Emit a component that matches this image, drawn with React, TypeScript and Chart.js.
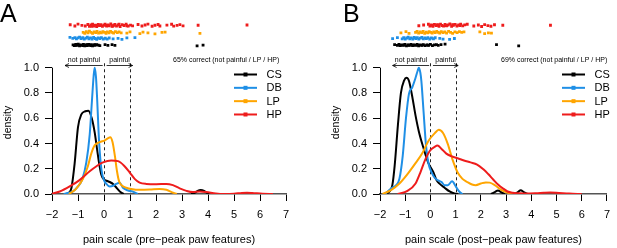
import React, { useEffect, useRef } from "react";
import { Chart, registerables } from "chart.js";
Chart.register(...registerables);

const FONT = "'Liberation Sans', Arial, Helvetica, sans-serif";
Chart.defaults.font.family = FONT;

type Pt = [number, number];

const groups = ["CS", "DB", "LP", "HP"];
const colors = ["#000000", "#1f8fe6", "#ffa500", "#ee1c1c"];
const xTicks = [-2, -1, 0, 1, 2, 3, 4, 5, 6, 7];
const yTicks = [0, 0.2, 0.4, 0.6, 0.8, 1.0];

// ---- Panel A density curves (pre-peak) ----
const csA: (Pt | null)[] = [[-1.45, 0], [-1.35, 0.01], [-1.25, 0.05], [-1.13, 0.24], [-1.0, 0.53], [-0.87, 0.63], [-0.72, 0.655], [-0.6, 0.66], [-0.47, 0.6], [-0.36, 0.49], [-0.27, 0.36], [-0.19, 0.245], [-0.1, 0.15], [0.0, 0.115], [0.1, 0.105], [0.22, 0.095], [0.37, 0.075], [0.5, 0.045], [0.63, 0.015], [0.76, 0], null, [3.35, 0], [3.5, 0.01], [3.6, 0.025], [3.72, 0.032], [3.85, 0.025], [3.95, 0.01], [4.05, 0]];
const dbA: (Pt | null)[] = [[-1.55, 0], [-1.4, 0.008], [-1.2, 0.02], [-1.0, 0.06], [-0.83, 0.12], [-0.68, 0.25], [-0.55, 0.47], [-0.46, 0.75], [-0.4, 0.93], [-0.36, 1.0], [-0.31, 0.93], [-0.27, 0.78], [-0.19, 0.42], [-0.1, 0.195], [0.0, 0.11], [0.09, 0.08], [0.22, 0.06], [0.35, 0.065], [0.47, 0.08], [0.6, 0.09], [0.73, 0.05], [0.9, 0.03], [1.1, 0.02], [1.3, 0]];
const lpA: (Pt | null)[] = [[-1.35, 0], [-1.2, 0.02], [-1.06, 0.045], [-0.81, 0.12], [-0.62, 0.22], [-0.49, 0.32], [-0.36, 0.385], [-0.17, 0.41], [0.03, 0.425], [0.15, 0.44], [0.24, 0.45], [0.33, 0.41], [0.42, 0.3], [0.5, 0.18], [0.58, 0.1], [0.7, 0.065], [0.86, 0.05], [1.05, 0.04], [1.37, 0.033], [1.76, 0.035], [2.14, 0.04], [2.4, 0.033], [2.6, 0.015], [2.8, 0]];
const hpA: (Pt | null)[] = [[-2.05, 0], [-1.7, 0.02], [-1.32, 0.06], [-0.94, 0.11], [-0.55, 0.18], [-0.29, 0.22], [-0.04, 0.25], [0.28, 0.265], [0.54, 0.26], [0.79, 0.22], [0.99, 0.17], [1.18, 0.12], [1.37, 0.09], [1.63, 0.08], [2.01, 0.078], [2.4, 0.08], [2.65, 0.07], [2.91, 0.045], [3.17, 0.025], [3.42, 0.015], [3.68, 0.02], [3.94, 0.015], [4.3, 0.004], [4.6, 0], [5.0, 0.002], [5.3, 0.008], [5.5, 0.01], [5.7, 0.008], [6.1, 0.002], [6.5, 0]];

// ---- Panel B density curves (post-peak) ----
const csB: (Pt | null)[] = [[-1.8, 0], [-1.62, 0.02], [-1.51, 0.07], [-1.42, 0.22], [-1.29, 0.545], [-1.17, 0.8], [-1.04, 0.9], [-0.95, 0.92], [-0.85, 0.895], [-0.72, 0.77], [-0.59, 0.62], [-0.46, 0.495], [-0.27, 0.36], [-0.08, 0.245], [0.12, 0.17], [0.24, 0.11], [0.37, 0.08], [0.56, 0.05], [0.76, 0.02], [0.95, 0.005], [1.1, 0], null, [2.4, 0], [2.55, 0.015], [2.68, 0.028], [2.8, 0.015], [2.95, 0], null, [3.35, 0], [3.47, 0.015], [3.58, 0.03], [3.7, 0.015], [3.85, 0]];
const dbB: (Pt | null)[] = [[-1.8, 0], [-1.55, 0.045], [-1.36, 0.07], [-1.23, 0.12], [-1.1, 0.3], [-0.97, 0.6], [-0.85, 0.795], [-0.72, 0.845], [-0.59, 0.92], [-0.5, 0.98], [-0.46, 1.0], [-0.4, 0.96], [-0.36, 0.895], [-0.27, 0.645], [-0.18, 0.395], [-0.08, 0.245], [0.05, 0.17], [0.18, 0.125], [0.31, 0.107], [0.44, 0.095], [0.56, 0.07], [0.69, 0.07], [0.86, 0.1], [1.01, 0.058], [1.14, 0.02], [1.27, 0]];
const lpB: (Pt | null)[] = [[-1.9, 0], [-1.55, 0.033], [-1.23, 0.083], [-0.91, 0.158], [-0.59, 0.245], [-0.33, 0.32], [-0.08, 0.42], [0.18, 0.483], [0.33, 0.508], [0.5, 0.483], [0.69, 0.395], [0.88, 0.27], [1.08, 0.17], [1.27, 0.12], [1.46, 0.095], [1.65, 0.075], [1.8, 0.07], [2.0, 0.083], [2.2, 0.092], [2.35, 0.09], [2.55, 0.07], [2.81, 0.033], [3.0, 0.015], [3.26, 0]];
const hpB: (Pt | null)[] = [[-1.3, 0], [-0.91, 0.025], [-0.59, 0.083], [-0.4, 0.17], [-0.21, 0.27], [-0.01, 0.345], [0.18, 0.375], [0.28, 0.383], [0.44, 0.357], [0.63, 0.32], [0.82, 0.3], [1.08, 0.283], [1.33, 0.265], [1.59, 0.25], [1.85, 0.233], [2.1, 0.195], [2.29, 0.158], [2.49, 0.115], [2.68, 0.075], [2.87, 0.045], [3.06, 0.02], [3.26, 0.01], [3.5, 0.006], [3.8, 0.003], [4.2, 0.006], [4.5, 0.01], [4.75, 0.012], [5.1, 0.008], [5.5, 0.003], [6.0, 0]];

// ---- Individual animal scores (strips above the densities) ----
const csStripA: Pt[] = [[-1.19, 1.18], [-1.14, 1.174], [-1.09, 1.184], [-1.04, 1.177], [-0.99, 1.186], [-0.94, 1.173], [-0.89, 1.181], [-0.84, 1.176], [-0.79, 1.185], [-0.74, 1.172], [-0.69, 1.18], [-0.64, 1.175], [-0.59, 1.184], [-0.54, 1.177], [-0.49, 1.182], [-0.44, 1.173], [-0.39, 1.18], [-0.34, 1.176], [-0.28, 1.183], [-0.22, 1.178], [-0.16, 1.174], [-1.1, 1.176], [-0.95, 1.179], [-0.8, 1.174], [-0.65, 1.183], [-0.5, 1.175], [-0.35, 1.182], [0.04, 1.182], [0.15, 1.177], [0.31, 1.183], [0.42, 1.176], [3.58, 1.172], [3.81, 1.178]];
const dbStripA: Pt[] = [[-1.31, 1.24], [-1.2, 1.232], [-1.12, 1.238], [-1.06, 1.228], [-1.0, 1.236], [-0.94, 1.242], [-0.88, 1.23], [-0.82, 1.237], [-0.76, 1.226], [-0.7, 1.234], [-0.64, 1.241], [-0.58, 1.229], [-0.52, 1.236], [-0.46, 1.227], [-0.4, 1.239], [-0.34, 1.231], [-0.28, 1.225], [-0.22, 1.236], [-0.16, 1.23], [-0.1, 1.238], [-0.03, 1.227], [0.05, 1.233], [0.12, 1.226], [0.2, 1.235], [0.35, 1.228], [0.54, 1.232], [0.69, 1.224], [0.88, 1.236], [1.19, 1.238]];
const lpStripA: Pt[] = [[-0.8, 1.28], [-0.74, 1.272], [-0.68, 1.285], [-0.62, 1.276], [-0.56, 1.29], [-0.5, 1.279], [-0.44, 1.271], [-0.38, 1.284], [-0.32, 1.277], [-0.27, 1.288], [-0.21, 1.273], [-0.15, 1.282], [-0.1, 1.275], [-0.04, 1.286], [0.02, 1.279], [0.08, 1.272], [0.13, 1.283], [0.19, 1.276], [0.25, 1.287], [0.31, 1.28], [0.37, 1.273], [0.44, 1.285], [0.51, 1.278], [0.58, 1.283], [0.66, 1.276], [0.88, 1.274], [1.0, 1.284], [1.38, 1.27], [1.5, 1.282], [1.69, 1.276], [1.96, 1.268], [2.23, 1.28], [2.35, 1.282], [3.69, 1.272]];
const hpStripA: Pt[] = [[-1.3, 1.34], [-1.12, 1.33], [-1.0, 1.345], [-0.85, 1.335], [-0.72, 1.33], [-0.62, 1.342], [-0.56, 1.328], [-0.5, 1.338], [-0.47, 1.328], [-0.44, 1.345], [-0.38, 1.33], [-0.33, 1.336], [-0.28, 1.326], [-0.25, 1.335], [-0.22, 1.343], [-0.17, 1.333], [-0.12, 1.34], [-0.06, 1.327], [-0.01, 1.337], [0.04, 1.344], [0.07, 1.335], [0.1, 1.329], [0.15, 1.339], [0.2, 1.332], [0.26, 1.346], [0.31, 1.328], [0.34, 1.329], [0.37, 1.336], [0.42, 1.343], [0.48, 1.33], [0.55, 1.338], [0.58, 1.344], [0.62, 1.326], [0.7, 1.341], [0.77, 1.334], [0.85, 1.345], [0.88, 1.332], [0.93, 1.329], [1.02, 1.337], [1.1, 1.331], [1.31, 1.342], [1.46, 1.33], [1.58, 1.338], [1.69, 1.345], [1.85, 1.328], [1.96, 1.336], [2.08, 1.342], [2.15, 1.33], [2.42, 1.337], [2.6, 1.344], [2.68, 1.329], [2.81, 1.335], [2.92, 1.341], [3.04, 1.331], [3.62, 1.336], [5.5, 1.338]];

const csStripB: Pt[] = [[-1.42, 1.182], [-1.31, 1.176], [-1.25, 1.184], [-1.22, 1.179], [-1.19, 1.174], [-1.13, 1.181], [-1.07, 1.177], [-1.04, 1.18], [-1.01, 1.185], [-0.95, 1.173], [-0.89, 1.18], [-0.86, 1.179], [-0.83, 1.176], [-0.77, 1.184], [-0.71, 1.174], [-0.68, 1.179], [-0.65, 1.181], [-0.59, 1.177], [-0.53, 1.185], [-0.5, 1.179], [-0.47, 1.173], [-0.41, 1.18], [-0.35, 1.176], [-0.32, 1.179], [-0.28, 1.183], [-0.21, 1.175], [-0.14, 1.181], [-0.1, 1.179], [-0.07, 1.177], [0.0, 1.184], [0.08, 1.174], [0.16, 1.18], [0.24, 1.183], [0.31, 1.176], [0.42, 1.182], [0.58, 1.187], [2.62, 1.182], [3.5, 1.172]];
const dbStripB: Pt[] = [[-1.5, 1.23], [-1.31, 1.238], [-1.12, 1.228], [-1.06, 1.237], [-1.0, 1.226], [-0.94, 1.235], [-0.88, 1.241], [-0.82, 1.229], [-0.76, 1.236], [-0.7, 1.227], [-0.64, 1.239], [-0.58, 1.231], [-0.52, 1.237], [-0.46, 1.226], [-0.4, 1.234], [-0.34, 1.24], [-0.28, 1.228], [-0.22, 1.236], [-0.16, 1.23], [-0.1, 1.238], [-0.03, 1.227], [0.04, 1.235], [0.12, 1.229], [0.19, 1.237], [0.37, 1.232], [0.5, 1.226], [0.76, 1.224], [0.95, 1.231]];
const lpStripB: Pt[] = [[-1.17, 1.276], [-0.97, 1.285], [-0.85, 1.272], [-0.59, 1.28], [-0.53, 1.288], [-0.47, 1.274], [-0.41, 1.283], [-0.35, 1.277], [-0.29, 1.287], [-0.23, 1.272], [-0.17, 1.281], [-0.11, 1.276], [-0.05, 1.286], [0.01, 1.279], [0.07, 1.273], [0.13, 1.284], [0.19, 1.277], [0.25, 1.288], [0.31, 1.28], [0.37, 1.273], [0.43, 1.285], [0.5, 1.278], [0.57, 1.283], [0.64, 1.274], [0.72, 1.287], [0.8, 1.279], [0.88, 1.272], [0.97, 1.284], [1.06, 1.277], [1.15, 1.286], [1.24, 1.279], [1.33, 1.283], [1.96, 1.284], [2.15, 1.27], [2.3, 1.276], [2.42, 1.273]];
const hpStripB: Pt[] = [[-0.46, 1.332], [-0.27, 1.338], [-0.08, 1.344], [-0.02, 1.33], [0.04, 1.338], [0.07, 1.335], [0.1, 1.327], [0.16, 1.343], [0.22, 1.333], [0.28, 1.34], [0.31, 1.336], [0.34, 1.328], [0.4, 1.345], [0.46, 1.334], [0.52, 1.329], [0.58, 1.342], [0.6, 1.334], [0.64, 1.331], [0.7, 1.338], [0.77, 1.346], [0.84, 1.328], [0.88, 1.34], [0.91, 1.336], [0.98, 1.343], [1.05, 1.33], [1.12, 1.338], [1.17, 1.333], [1.2, 1.345], [1.28, 1.331], [1.36, 1.339], [1.46, 1.344], [1.72, 1.33], [1.9, 1.338], [2.03, 1.326], [2.15, 1.341], [2.28, 1.333], [2.4, 1.328], [2.54, 1.34], [2.87, 1.336], [4.76, 1.336]];

interface PanelCfg {
  label: string;
  labelX: number;
  left: number;
  width: number;
  padRight: number;
  accuracy: string;
  xTitle: string;
  curves: (Pt | null)[][];
  strips: Pt[][];
}

const panels: PanelCfg[] = [
  { label: "A", labelX: 0, left: 0, width: 328, padRight: 42, accuracy: "65% correct (not painful / LP / HP)", xTitle: "pain scale (pre\u2212peak paw features)", curves: [csA, dbA, lpA, hpA], strips: [csStripA, dbStripA, lpStripA, hpStripA] },
  { label: "B", labelX: 15, left: 328, width: 289, padRight: 3, accuracy: "69% correct (not painful / LP / HP)", xTitle: "pain scale (post\u2212peak paw features)", curves: [csB, dbB, lpB, hpB], strips: [csStripB, dbStripB, lpStripB, hpStripB] },
];

const fmtX = (v: number) => (v < 0 ? "\u2212" + Math.abs(v) : String(v));

function drawArrow(ctx: CanvasRenderingContext2D, xa: number, xb: number, yy: number) {
  ctx.beginPath();
  ctx.moveTo(xa, yy);
  ctx.lineTo(xb, yy);
  const dir = xb > xa ? 1 : -1;
  ctx.moveTo(xb - dir * 4, yy - 2);
  ctx.lineTo(xb, yy);
  ctx.lineTo(xb - dir * 4, yy + 2);
  ctx.stroke();
}

function makePlugin(cfg: PanelCfg) {
  return {
    id: "annot" + cfg.label,
    beforeDatasetsDraw(chart: any) {
      const { ctx, chartArea, scales } = chart;
      const x = scales.x, y = scales.y;
      ctx.save();
      ctx.strokeStyle = "#000";
      ctx.lineWidth = 1;
      ctx.beginPath();
      const ax = Math.round(chartArea.left) + 0.5;
      ctx.moveTo(ax, y.getPixelForValue(0));
      ctx.lineTo(ax, y.getPixelForValue(1));
      ctx.stroke();
      ctx.setLineDash([3, 3]);
      ctx.strokeStyle = "#222";
      for (const v of [0, 1]) {
        const px = Math.round(x.getPixelForValue(v)) + 0.5;
        ctx.beginPath();
        ctx.moveTo(px, y.getPixelForValue(1.035));
        ctx.lineTo(px, y.getPixelForValue(0));
        ctx.stroke();
      }
      ctx.restore();
    },
    afterDraw(chart: any) {
      const { ctx, chartArea, scales } = chart;
      const x = scales.x, y = scales.y;
      ctx.save();
      ctx.fillStyle = "#000";
      ctx.font = `25px ${FONT}`;
      ctx.textAlign = "left";
      ctx.textBaseline = "alphabetic";
      ctx.fillText(cfg.label, cfg.labelX, 21.5);
      const ay = Math.round(y.getPixelForValue(1.025)) + 0.5;
      ctx.strokeStyle = "#000";
      ctx.lineWidth = 0.8;
      drawArrow(ctx, x.getPixelForValue(-0.05), x.getPixelForValue(-1.5), ay);
      drawArrow(ctx, x.getPixelForValue(0.1), x.getPixelForValue(1.1), ay);
      ctx.font = `7px ${FONT}`;
      ctx.textAlign = "center";
      ctx.textBaseline = "middle";
      const ty = y.getPixelForValue(1.064);
      ctx.fillText("not painful", x.getPixelForValue(-0.77), ty);
      ctx.fillText("painful", x.getPixelForValue(0.6), ty);
      ctx.textAlign = "left";
      ctx.fillText(cfg.accuracy, chartArea.left + 121, ty + 0.5);
      ctx.save();
      ctx.translate(8.5, 122.5);
      ctx.rotate(-Math.PI / 2);
      ctx.font = `10.5px ${FONT}`;
      ctx.textAlign = "center";
      ctx.textBaseline = "middle";
      ctx.fillText("density", 0, 0);
      ctx.restore();
      const lx0 = chartArea.left + 182, lx1 = chartArea.left + 205;
      ctx.font = `11px ${FONT}`;
      groups.forEach((g, i) => {
        const ry = 74.5 + i * 13.33;
        ctx.strokeStyle = colors[i];
        ctx.fillStyle = colors[i];
        ctx.lineWidth = 2;
        ctx.beginPath();
        ctx.moveTo(lx0, ry);
        ctx.lineTo(lx1, ry);
        ctx.stroke();
        ctx.fillRect((lx0 + lx1) / 2 - 2, ry - 2, 4, 4);
        ctx.fillStyle = "#000";
        ctx.textAlign = "left";
        ctx.fillText(g, chartArea.left + 214.5, ry + 0.5);
      });
      ctx.restore();
    },
  };
}

const toXY = (arr: (Pt | null)[]) =>
  arr.map((p, i) => (p ? { x: p[0], y: p[1] } : { x: (arr[i - 1] as Pt)[0] + 0.01, y: null }));

function Panel({ cfg }: { cfg: PanelCfg }) {
  const ref = useRef<HTMLCanvasElement>(null);
  useEffect(() => {
    const datasets: any[] = [];
    cfg.curves.forEach((c, i) => {
      datasets.push({
        label: groups[i],
        data: toXY(c),
        showLine: true,
        borderColor: colors[i],
        backgroundColor: colors[i],
        borderWidth: 2,
        pointRadius: 0,
        cubicInterpolationMode: "monotone",
        spanGaps: false,
        order: 4 - i + 4,
      });
    });
    cfg.strips.forEach((s, i) => {
      datasets.push({
        label: groups[i] + " animals",
        data: s.map((p) => ({ x: p[0], y: p[1] })),
        showLine: false,
        pointStyle: "rect",
        pointRadius: 2,
        borderWidth: 0,
        backgroundColor: colors[i],
        borderColor: colors[i],
        order: 4 - i,
      });
    });
    const chart = new Chart(ref.current!, {
      type: "scatter",
      data: { datasets },
      plugins: [makePlugin(cfg)],
      options: {
        responsive: false,
        animation: false,
        events: [],
        layout: { padding: { left: 0, right: cfg.padRight, top: 3, bottom: 0 } },
        plugins: { legend: { display: false }, tooltip: { enabled: false } },
        scales: {
          x: {
            type: "linear",
            min: -2,
            max: 7,
            afterBuildTicks: (s: any) => {
              s.ticks = xTicks.map((v) => ({ value: v }));
            },
            afterFit: (s: any) => {
              s.height = 54;
            },
            ticks: {
              color: "#000",
              font: { size: 11 },
              padding: 7,
              maxRotation: 0,
              autoSkip: false,
              callback: (v: any) => fmtX(Number(v)),
            },
            grid: { display: true, drawOnChartArea: false, drawTicks: true, tickLength: 7, color: "#000", lineWidth: 1 },
            border: { display: true, color: "#555", width: 1.5 },
            title: { display: true, text: cfg.xTitle, color: "#000", font: { size: 11 }, padding: { top: 0, bottom: 1 } },
          },
          y: {
            type: "linear",
            min: 0,
            max: 1.436,
            afterBuildTicks: (s: any) => {
              s.ticks = yTicks.map((v) => ({ value: v }));
            },
            afterFit: (s: any) => {
              s.width = 52;
            },
            ticks: {
              color: "#000",
              font: { size: 11 },
              padding: 6,
              callback: (v: any) => Number(v).toFixed(1),
            },
            grid: { display: true, drawOnChartArea: false, drawTicks: true, tickLength: 7, color: "#000", lineWidth: 1 },
            border: { display: false },
          },
        },
      } as any,
    });
    return () => chart.destroy();
  }, []);
  return (
    <canvas
      ref={ref}
      width={cfg.width}
      height={248}
      style={{ position: "absolute", left: cfg.left, top: 0, width: cfg.width, height: 248 }}
    />
  );
}

export default function App() {
  return (
    <div style={{ position: "fixed", left: 0, top: 0, width: 617, height: 248, background: "#fff", overflow: "hidden" }}>
      {panels.map((p) => (
        <Panel key={p.label} cfg={p} />
      ))}
    </div>
  );
}
